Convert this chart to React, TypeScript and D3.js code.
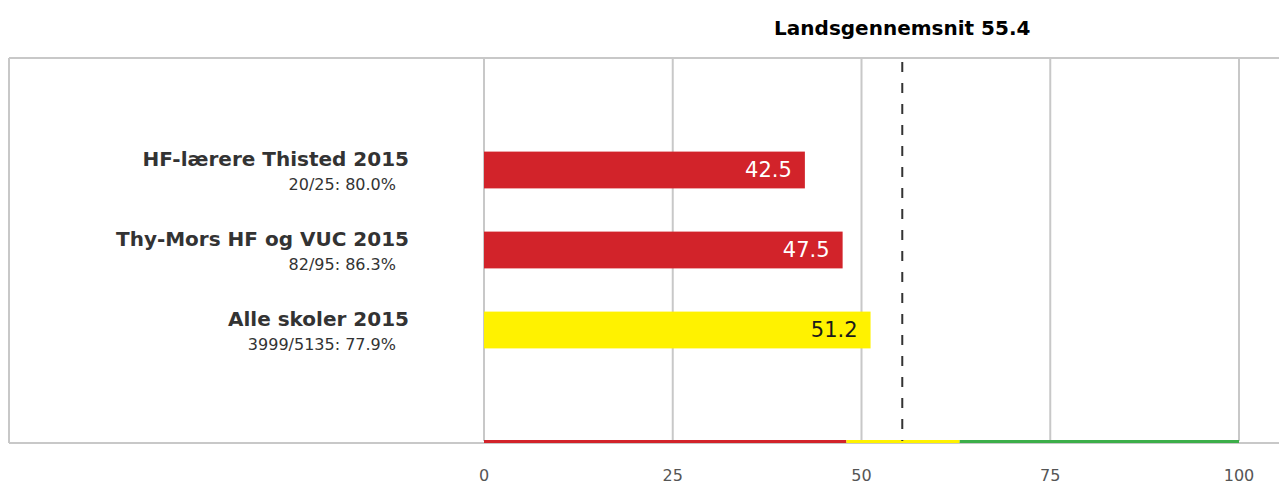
import React from "react";
import * as d3 from "d3";

const categories = ["HF-lærere Thisted 2015", "Thy-Mors HF og VUC 2015", "Alle skoler 2015"];
const subtitles = ["20/25: 80.0%", "82/95: 86.3%", "3999/5135: 77.9%"];
const values = [42.5, 47.5, 51.2];
const barColors = ["#d2232a", "#d2232a", "#fff200"];
const labelColors = ["#ffffff", "#ffffff", "#1a1a1a"];
const nationalAverage = 55.4;
const ticks = [0, 25, 50, 75, 100];
const zones = [
  { from: 0, to: 48, color: "#d2232a" },
  { from: 48, to: 63, color: "#fff200" },
  { from: 63, to: 100, color: "#3cae49" },
];

const W = 1279;
const H = 485;
const FONT = "'DejaVu Sans', 'Noto Sans', sans-serif";

export default function App() {
  const x = d3.scaleLinear().domain([0, 100]).range([484, 1239]);
  const y = d3.scaleBand<number>().domain([0, 1, 2]).range([130, 370]).paddingInner(0.54).paddingOuter(0.27);
  const top = 58;
  const bottom = 441;
  const frameLeft = 9;

  return (
    <svg width={W} height={H} style={{ position: "absolute", left: 0, top: 0 }}>
      <rect width={W} height={H} fill="#fff" />
      {/* frame */}
      <line x1={frameLeft} x2={W} y1={top} y2={top} stroke="#c8c8c8" strokeWidth={2} />
      <line x1={frameLeft} x2={frameLeft} y1={top} y2={bottom + 2} stroke="#c8c8c8" strokeWidth={2} />
      <line x1={frameLeft} x2={W} y1={bottom + 2} y2={bottom + 2} stroke="#c8c8c8" strokeWidth={2} />
      {/* gridlines */}
      {ticks.map((t) => (
        <line key={t} x1={x(t)} x2={x(t)} y1={top} y2={bottom} stroke="#c8c8c8" strokeWidth={2} />
      ))}
      {/* zones */}
      {zones.map((z, i) => (
        <rect key={i} x={x(z.from)} width={x(z.to) - x(z.from)} y={bottom - 1} height={3} fill={z.color} />
      ))}
      {/* bars */}
      {values.map((v, i) => {
        const by = y(i)!;
        const bh = y.bandwidth();
        return (
          <g key={i}>
            <rect x={x(0)} y={by} width={x(v) - x(0)} height={bh} fill={barColors[i]} />
            <text
              x={x(v) - 13}
              y={by + bh / 2 + 7}
              textAnchor="end"
              fontFamily={FONT}
              fontSize={21}
              fill={labelColors[i]}
            >
              {v.toFixed(1)}
            </text>
            <text
              x={409}
              y={by + bh / 2 - 4}
              textAnchor="end"
              fontFamily={FONT}
              fontWeight="bold"
              fontSize={20}
              fill="#333"
            >
              {categories[i]}
            </text>
            <text
              x={396}
              y={by + bh / 2 + 20}
              textAnchor="end"
              fontFamily={FONT}
              fontSize={16}
              fill="#333"
            >
              {subtitles[i]}
            </text>
          </g>
        );
      })}
      {/* average line */}
      <line
        x1={x(nationalAverage)}
        x2={x(nationalAverage)}
        y1={top + 4}
        y2={bottom}
        stroke="#333"
        strokeWidth={2}
        strokeDasharray="10,11"
      />
      <text
        x={x(nationalAverage)}
        y={35}
        textAnchor="middle"
        fontFamily={FONT}
        fontWeight="bold"
        fontSize={20}
        fill="#000"
      >
        {`Landsgennemsnit ${nationalAverage}`}
      </text>
      {/* tick labels */}
      {ticks.map((t) => (
        <text key={t} x={x(t)} y={481} textAnchor="middle" fontFamily={FONT} fontSize={16} fill="#555">
          {t}
        </text>
      ))}
    </svg>
  );
}
